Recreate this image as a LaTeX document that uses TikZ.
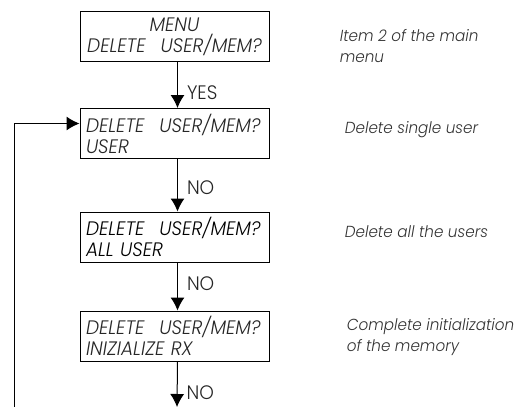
\documentclass[tikz,border=0pt]{standalone}
\usepackage{fontspec}
\setmainfont{Poppins Light}[ItalicFont={Poppins Light Italic}, FakeStretch=0.95]
\newfontfamily\screenfam{Poppins Light}[ItalicFont={Poppins Light Italic}, FakeStretch=0.95]
\usetikzlibrary{arrows.meta,positioning}
\newcommand\dispfont{\screenfam\fontsize{19.5pt}{21pt}\selectfont}
\newcommand\notefont{\fontsize{16pt}{21pt}\selectfont}
\tikzset{
  menubox/.style={draw, minimum width=189pt, minimum height=50pt, text width=177pt,
    inner xsep=6pt, inner ysep=0pt, align=left, font=\dispfont\itshape, text=black!85},
  note/.style={anchor=west, align=left, font=\notefont\itshape, text=black!80},
  lab/.style={right, inner xsep=9pt, font=\dispfont, text=black!85}
}
\begin{document}
\begin{tikzpicture}[x=1pt, y=-1pt, >={Latex[length=13pt,width=14pt]}, line width=1pt]
\useasboundingbox (0,0) rectangle (517,407);
% display screens
\node[menubox, align=center] (menu) at (174.5,36.5) {MENU\\DELETE\hspace{15pt}USER/MEM?};
\node[menubox] (user) at (174.5,133.5) {DELETE\hspace{15pt}USER/MEM?\\USER};
\node[menubox, text=black] (all) at (174.5,237) {DELETE\hspace{15pt}USER/MEM?\\ALL USER};
\node[menubox] (init) at (174.5,336) {DELETE\hspace{15pt}USER/MEM?\\INIZIALIZE RX};
\coordinate (out) at (177,407);
\coordinate (back) at (14,407);
% keys
\draw[->] ([xshift=3pt]menu.south) -- node[lab, pos=.67]{YES} ([xshift=3pt]user.north);
\draw[->] ([xshift=3pt]user.south) -- node[lab, pos=.55]{NO} ([xshift=3pt]all.north);
\draw[->] ([xshift=3pt]all.south) -- node[lab, pos=.45]{NO} ([xshift=3pt]init.north);
\draw[->] ([xshift=3pt]init.south) -- node[lab, pos=.68]{NO} (out);
\draw[->] (back) |- ([yshift=10pt]user.west);
% comments
\node[note] (n1) at (336,46) {Item 2 of the main\\menu};
\node[note] (n2) at (341,130) {Delete single user};
\node[note] (n3) at (341,232) {Delete all the users};
\node[note] (n4) at (343,337.5) {Complete initialization\\of the memory};
\end{tikzpicture}
\end{document}
